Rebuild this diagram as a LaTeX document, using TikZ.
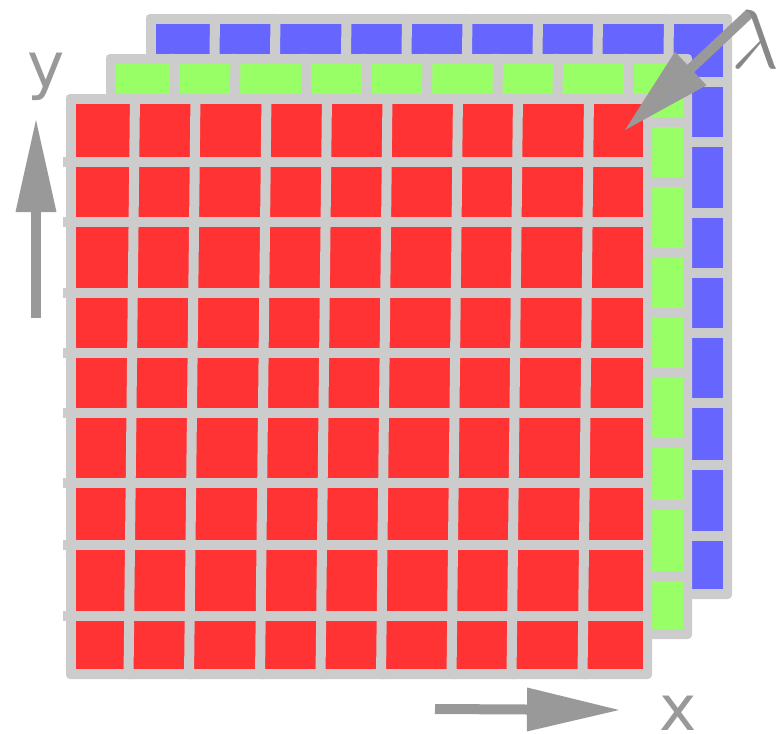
\RequirePackage{fix-cm}
\documentclass[tikz,border=0pt]{standalone}
\usepackage{fontspec}
\newfontfamily\labelfont{DejaVu Sans}
\usetikzlibrary{calc}
\definecolor{gridgray}{HTML}{CCCCCC}
\definecolor{cellred}{HTML}{FF3333}
\definecolor{cellgreen}{HTML}{99FF66}
\definecolor{cellblue}{HTML}{6666FF}
\definecolor{arrowgray}{HTML}{999999}
\definecolor{lambdagray}{HTML}{888888}
\tikzset{
  gridline/.style={draw=gridgray, line width=10pt, line cap=butt},
  shaftline/.style={draw=arrowgray, line width=10pt, line cap=butt},
  headfill/.style={fill=arrowgray},
  labeltext/.style={text=arrowgray, inner sep=0pt, font=\labelfont\fontsize{63}{63}\selectfont},
}
\newcommand\drawplane[3]{%
  \begin{scope}[shift={(#1,#2)}]
    \fill[gridgray, rounded corners=4pt] (66,94) rectangle (652,679);
    \fill[#3] (76,104) rectangle (643,669);
    \foreach \t in {135,195.5,266.5,327,387.5,458,518,589}
      \draw[gridline] (\t,94) -- ({\t-6.5},679);
    \foreach \h in {162,222,293,353,413,483,545,616}
      \draw[gridline] (63,\h) -- (652,\h);
  \end{scope}}
\newcommand\fatarrow[5]{%
  \coordinate (#1s) at #2;
  \coordinate (#1t) at #3;
  \coordinate (#1b) at ($(#1t)!#4!(#1s)$);
  \draw[shaftline] (#1s) -- ($(#1b)!1pt!(#1t)$);
  \fill[headfill] (#1t) -- ($(#1b)!#5!90:(#1t)$) -- ($(#1b)!#5!-90:(#1t)$) -- cycle;}
\begin{document}
\begin{tikzpicture}[x=1pt, y=-1pt]
  \clip (0,0) rectangle (777,734);
  \drawplane{80}{-80}{cellblue}
  \drawplane{40}{-40}{cellgreen}
  \drawplane{0}{0}{cellred}
  \fatarrow{ya}{(36,318)}{(36,120)}{92pt}{20.5pt}
  \fatarrow{xa}{(435,709)}{(619,710)}{92pt}{22pt}
  \fatarrow{la}{(750,13)}{(625,130)}{90pt}{23pt}
  \node[labeltext, anchor=base] (ylabel) at (46.5,87) {y};
  \node[labeltext, anchor=base] (xlabel) at (678,730) {x};
  \node[anchor=base west, inner sep=0pt, text=lambdagray, font=\fontsize{84}{90}\selectfont] (lambda) at (731,68) {$\lambda$};
\end{tikzpicture}
\end{document}
